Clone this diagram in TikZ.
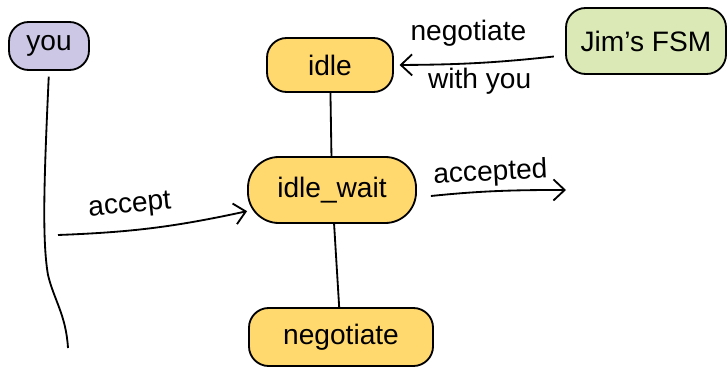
\documentclass[tikz,border=0pt]{standalone}
\usepackage{fontspec}
\setmainfont{Liberation Sans}
\usetikzlibrary{arrows.meta}

\definecolor{stateyellow}{HTML}{FFD86E}
\definecolor{youpurple}{HTML}{CBC7E4}
\definecolor{jimgreen}{HTML}{DAE9B6}

\begin{document}
\begin{tikzpicture}[x=0.025cm,y=-0.025cm]

\def\lw{1.3pt}

\tikzstyle{snode} = [draw,line width=\lw,rounded corners=14pt,inner sep=0pt,font=\fontsize{20}{24}\selectfont];
\tikzstyle{lnode} = [font=\fontsize{20}{24}\selectfont,inner sep=3pt];
\tikzstyle{line} = [line width=\lw];
\tikzstyle{arr} = [line width=\lw,-{Straight Barb[length=8pt,width=15pt,line width=\lw]}];

\useasboundingbox (0,0) rectangle (728,367);

\node [snode,fill=youpurple,minimum width=2cm,minimum height=1.2cm] (you) at (49,46) {you};
\node [snode,fill=stateyellow,minimum width=3.15cm,minimum height=1.35cm] (idle) at (330,65) {idle};
\node [snode,fill=jimgreen,minimum width=4cm,minimum height=1.65cm] (jim) at (646,41) {Jim's FSM};
\node [snode,fill=stateyellow,minimum width=4.2cm,minimum height=1.65cm,rounded corners=22pt] (idlewait) at (332,190) {idle\_wait};
\node [snode,fill=stateyellow,minimum width=4.6cm,minimum height=1.45cm] (negotiate) at (341,337) {negotiate};

\coordinate (lla) at (48,275);
\coordinate (lend) at (68,348);
\coordinate (accstart) at (58,235);
\coordinate (accend) at (566,190);

\draw [line,shorten <=4pt] (you.south) .. controls (44,180) and (42,240) .. (lla) .. controls (54,300) and (66,315) .. (lend);

\draw [line] (idle) -- (idlewait);
\draw [line] (idlewait) -- (negotiate);

\draw [arr,shorten <=8pt,shorten >=4pt] (jim.190) to[bend left=3] node[lnode,above=8pt,xshift=-8pt] (lneg) {negotiate} node[lnode,below] (lwith) {with you} (idle.east);

\draw [arr] (accstart) to[bend right=5] node[lnode,above=5pt,sloped,pos=0.38] (lacc) {accept} (idlewait.194);
\draw [arr,shorten <=10pt] (idlewait.-5) to[bend left=3] node[lnode,above,sloped] (laccd) {accepted} (accend);

\end{tikzpicture}
\end{document}
